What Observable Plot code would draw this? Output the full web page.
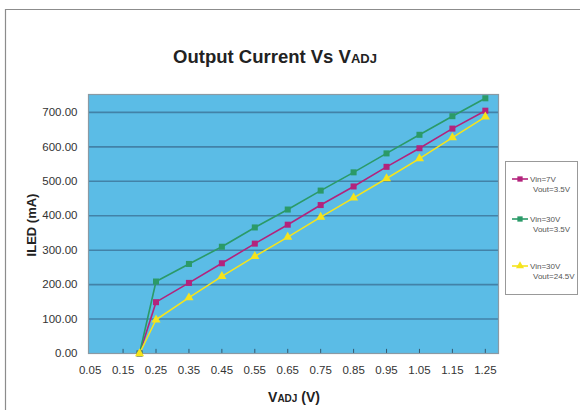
<!DOCTYPE html>
<html>
<head>
<meta charset="utf-8">
<script src="https://cdn.jsdelivr.net/npm/d3@7"></script>
<script src="https://cdn.jsdelivr.net/npm/@observablehq/plot@0.6"></script>
<style>
  html, body { margin: 0; padding: 0; background: #fff; }
  #chart { width: 580px; height: 410px; }
</style>
</head>
<body>
<div id="chart"></div>
<script>
const vadj = [0.20, 0.25, 0.35, 0.45, 0.55, 0.65, 0.75, 0.85, 0.95, 1.05, 1.15, 1.25];
const iVin7 = [0, 149, 205, 262, 319, 374, 431, 485, 542, 596, 653, 705];
const iVin30Low = [0, 209, 260, 310, 366, 418, 473, 526, 581, 635, 689, 741];
const iVin30High = [0, 98, 162, 224, 282, 338, 396, 452, 508, 566, 627, 687];
const seriesNames = ["Vin=7V|Vout=3.5V", "Vin=30V|Vout=3.5V", "Vin=30V|Vout=24.5V"];
const xTicks = [0.05, 0.15, 0.25, 0.35, 0.45, 0.55, 0.65, 0.75, 0.85, 0.95, 1.05, 1.15, 1.25];
const yTicks = [0, 100, 200, 300, 400, 500, 600, 700];

const colors = ["#b3237c", "#2b9a68", "#f5e41c"];
const symbols = ["square", "square", "triangle"];
const seriesVals = [iVin7, iVin30Low, iVin30High];

const rows = [];
seriesVals.forEach((vals, s) => vals.forEach((v, i) => rows.push({x: vadj[i], y: v, s})));

const W = 580, H = 410;
const plot = Plot.plot({
  width: W, height: H,
  marginLeft: 88, marginRight: 82, marginTop: 94, marginBottom: 57,
  style: {fontFamily: "Liberation Sans, Arial, sans-serif", fontSize: "11.5px", color: "#333", background: "transparent"},
  x: {domain: [0.045, 1.29], ticks: xTicks, tickFormat: d3.format(".2f"), tickSize: 0, tickPadding: 12, label: null},
  y: {domain: [0, 752], ticks: yTicks, tickFormat: d3.format(".2f"), tickSize: 0, tickPadding: 11, label: null},
  marks: [
    Plot.frame({fill: "#5bbce6", stroke: null}),
    Plot.ruleY(yTicks.slice(1), {stroke: "#4282a8", strokeWidth: 1.6}),
    Plot.ruleX(xTicks.slice(1), {y1: 0, y2: 12, stroke: "#35586e", strokeWidth: 1}),
    Plot.ruleY([0], {stroke: "#4a6c80", strokeWidth: 1.2}),
    Plot.frame({stroke: "#8a9aa4", strokeWidth: 1.2}),
    Plot.line(rows, {x: "x", y: "y", z: "s", stroke: d => colors[d.s], strokeWidth: 1.6}),
    Plot.dot(rows, {x: "x", y: "y", symbol: d => symbols[d.s], fill: d => colors[d.s], r: 3.4, stroke: null})
  ]
});
document.getElementById("chart").appendChild(plot);

const svg = d3.select(plot);
// outer frame
svg.append("path").attr("d", "M5.5,412 L5.5,9.5 L585,9.5").attr("fill", "none").attr("stroke", "#8c8c8c").attr("stroke-width", 1.2);

// Title
const t = svg.append("text").attr("x", 275).attr("y", 63).attr("text-anchor", "middle")
  .attr("font-family", "Liberation Sans, Arial, sans-serif").attr("font-size", 18.5).attr("font-weight", "bold").attr("fill", "#222");
t.append("tspan").text("Output Current Vs V");
t.append("tspan").attr("font-size", 13).text("ADJ");

// X axis title
const xt = svg.append("text").attr("x", 294).attr("y", 402).attr("text-anchor", "middle")
  .attr("font-family", "Liberation Sans, Arial, sans-serif").attr("font-size", 14).attr("font-weight", "bold").attr("fill", "#222");
xt.append("tspan").text("V");
xt.append("tspan").attr("font-size", 10).text("ADJ");
xt.append("tspan").text(" (V)");

// Y axis title
svg.append("text").attr("transform", "translate(36,225) rotate(-90)").attr("text-anchor", "middle")
  .attr("font-family", "Liberation Sans, Arial, sans-serif").attr("font-size", 13).attr("font-weight", "bold").attr("fill", "#222")
  .text("ILED (mA)");

// Legend
const lg = svg.append("g").attr("text-anchor", "start");
lg.append("rect").attr("x", 505.5).attr("y", 161.5).attr("width", 72).attr("height", 133)
  .attr("fill", "#fff").attr("stroke", "#999").attr("stroke-width", 1);
const legY = [179, 219, 266];
seriesNames.forEach((name, i) => {
  const y = legY[i];
  lg.append("line").attr("x1", 512).attr("x2", 528).attr("y1", y).attr("y2", y).attr("stroke", colors[i]).attr("stroke-width", 1.6);
  const sym = d3.symbol().type(symbols[i] === "square" ? d3.symbolSquare : d3.symbolTriangle).size(28);
  lg.append("path").attr("d", sym()).attr("transform", `translate(520,${y})`).attr("fill", colors[i]);
  const [a, b] = name.split("|");
  const tx = lg.append("text").attr("text-anchor", "start").attr("font-family", "Liberation Sans Narrow, Liberation Sans, Arial, sans-serif")
    .attr("font-size", 8).attr("fill", "#555");
  tx.append("tspan").attr("x", 530).attr("y", y + 3).text(a);
  tx.append("tspan").attr("x", 533).attr("y", y + 13).text(b);
});
</script>
</body>
</html>
